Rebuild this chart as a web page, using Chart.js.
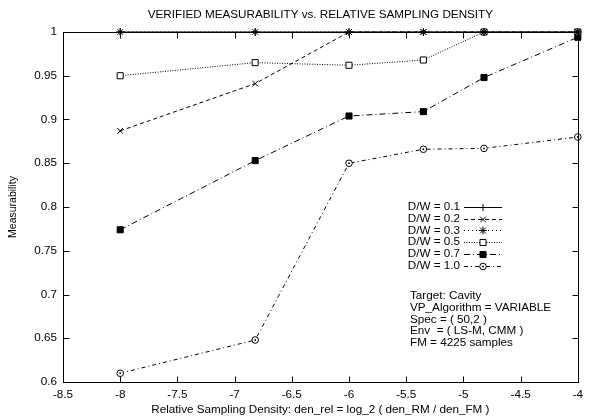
<!DOCTYPE html>
<html>
<head>
<meta charset="utf-8">
<script src="https://cdn.jsdelivr.net/npm/chart.js@4/dist/chart.umd.min.js"></script>
<style>
  body { margin: 0; background: #fff; }
  #wrap { width: 589px; height: 420px; }
</style>
</head>
<body>
<div id="wrap"><canvas id="chart" width="589" height="420"></canvas></div>
<script>
// Data
const xValues = [-8, -6.82, -6, -5.35, -4.82, -4];
const labels = ["D/W = 0.1", "D/W = 0.2", "D/W = 0.3", "D/W = 0.5", "D/W = 0.7", "D/W = 1.0"];
const dw01 = [1, 1, 1, 1, 1, 1];
const dw02 = [0.887, 0.941, 1, 1, 1, 1];
const dw03 = [1, 1, 1, 1, 1, 1];
const dw05 = [0.95, 0.965, 0.962, 0.968, 1, 1];
const dw07 = [0.774, 0.853, 0.904, 0.909, 0.948, 0.994];
const dw10 = [0.61, 0.648, 0.85, 0.866, 0.867, 0.88];
const chartTitle = "VERIFIED MEASURABILITY vs. RELATIVE SAMPLING DENSITY";
const infoLines = [
  "Target: Cavity",
  "VP_Algorithm = VARIABLE",
  "Spec = ( 50,2 )",
  "Env  = ( LS-M, CMM )",
  "FM = 4225 samples",
];

const FONT = "'Liberation Sans', Arial, Helvetica, sans-serif";
const FSIZE = 11.7;

// line styles per series (gnuplot-ish)
const styles = [
  { dash: [], point: "cross", fill: false, r: 3.5 },
  { dash: [4, 3], point: "crossRot", fill: false, r: 4 },
  { dash: [1, 3], point: "star", fill: false, r: 4 },
  { dash: [1, 1.5], point: "rect", fill: false, r: 4.3 },
  { dash: [6, 3, 1, 3], point: "rect", fill: true, r: 4.3 },
  { dash: [4, 3, 1, 3], point: "circle", fill: false, r: 3.3 },
];

const series = [dw01, dw02, dw03, dw05, dw07, dw10];

const datasets = series.map((vals, i) => ({
  label: labels[i],
  data: vals.map((v, j) => ({ x: xValues[j], y: v })),
  borderColor: "#000",
  borderWidth: 1,
  borderDash: styles[i].dash,
  pointStyle: styles[i].point,
  pointRadius: styles[i].r,
  pointBorderWidth: 1,
  pointBorderColor: "#000",
  pointBackgroundColor: styles[i].fill ? "#000" : "#fff",
  tension: 0,
  clip: false,
}));

// title, frame, inward mirrored ticks, key and info text
const gnuplotDecor = {
  id: "gnuplotDecor",
  afterDraw(chart) {
    const { ctx, chartArea: a, scales } = chart;
    const L = Math.round(a.left) + 0.5, R = Math.round(a.right) + 0.5;
    const T = Math.round(a.top) + 0.5, B = Math.round(a.bottom) + 0.5;
    ctx.save();
    ctx.strokeStyle = "#000";
    ctx.lineWidth = 1;
    ctx.setLineDash([]);
    ctx.strokeRect(L, T, R - L, B - T);
    const tl = 6;
    ctx.beginPath();
    scales.x.ticks.forEach((t) => {
      const px = Math.round(scales.x.getPixelForValue(t.value)) + 0.5;
      ctx.moveTo(px, B); ctx.lineTo(px, B - tl);
      ctx.moveTo(px, T); ctx.lineTo(px, T + tl);
    });
    scales.y.ticks.forEach((t) => {
      const py = Math.round(scales.y.getPixelForValue(t.value)) + 0.5;
      ctx.moveTo(L, py); ctx.lineTo(L + tl, py);
      ctx.moveTo(R, py); ctx.lineTo(R - tl, py);
    });
    ctx.stroke();

    // dot inside the D/W = 1.0 circles
    const meta = chart.getDatasetMeta(5);
    ctx.fillStyle = "#000";
    meta.data.forEach((pt) => {
      ctx.beginPath();
      ctx.arc(pt.x, pt.y, 0.9, 0, Math.PI * 2);
      ctx.fill();
    });

    ctx.font = FSIZE + "px " + FONT;
    ctx.textBaseline = "middle";

    // title
    ctx.textAlign = "center";
    ctx.fillText(chartTitle, (a.left + a.right) / 2, 15);

    // key
    const rowH = 11.7;
    chart.data.datasets.forEach((ds, i) => {
      const y = 207 + i * rowH;
      const yl = Math.round(y) + 0.5;
      ctx.textAlign = "right";
      ctx.fillText(ds.label, 460, y);
      ctx.beginPath();
      ctx.setLineDash(ds.borderDash);
      ctx.moveTo(464, yl);
      ctx.lineTo(502, yl);
      ctx.stroke();
      ctx.setLineDash([]);
      ctx.fillStyle = ds.pointBackgroundColor;
      Chart.helpers.drawPoint(ctx, {
        pointStyle: ds.pointStyle,
        radius: ds.pointRadius,
        borderWidth: 1,
        rotation: 0,
      }, 483, yl);
      if (i === 5) {
        ctx.fillStyle = "#000";
        ctx.beginPath();
        ctx.arc(483, yl, 0.9, 0, Math.PI * 2);
        ctx.fill();
      }
      ctx.fillStyle = "#000";
    });

    // info block
    ctx.textAlign = "left";
    infoLines.forEach((s, i) => {
      ctx.fillText(s, 410, 296 + i * rowH);
    });
    ctx.restore();
  },
};

new Chart(document.getElementById("chart"), {
  type: "line",
  data: { datasets: datasets },
  options: {
    responsive: false,
    animation: false,
    layout: { padding: { right: 6, top: 32, left: 0, bottom: 0 } },
    plugins: {
      legend: { display: false },
      tooltip: { enabled: false },
      title: { display: false },
    },
    scales: {
      x: {
        type: "linear",
        min: -8.5,
        max: -4,
        grid: { display: false, drawTicks: false },
        border: { display: false },
        afterFit: (s) => { s.height = 38; },
        ticks: {
          stepSize: 0.5,
          color: "#000",
          padding: 6,
          maxRotation: 0,
          font: { family: FONT, size: FSIZE },
          callback: (v) => String(+v.toFixed(2)),
        },
        title: {
          display: true,
          text: "Relative Sampling Density: den_rel = log_2 ( den_RM / den_FM )",
          color: "#000",
          font: { family: FONT, size: FSIZE },
          padding: { top: 0, bottom: 3 },
        },
      },
      y: {
        min: 0.6,
        max: 1,
        grid: { display: false, drawTicks: false },
        border: { display: false },
        afterFit: (s) => { s.width = 63; },
        ticks: {
          stepSize: 0.05,
          color: "#000",
          padding: 6,
          font: { family: FONT, size: FSIZE },
          callback: (v) => String(+v.toFixed(2)),
        },
        title: {
          display: true,
          text: "Measurability",
          color: "#000",
          font: { family: FONT, size: 10.5 },
          padding: { top: 7, bottom: 0 },
        },
      },
    },
  },
  plugins: [gnuplotDecor],
});
</script>
</body>
</html>
